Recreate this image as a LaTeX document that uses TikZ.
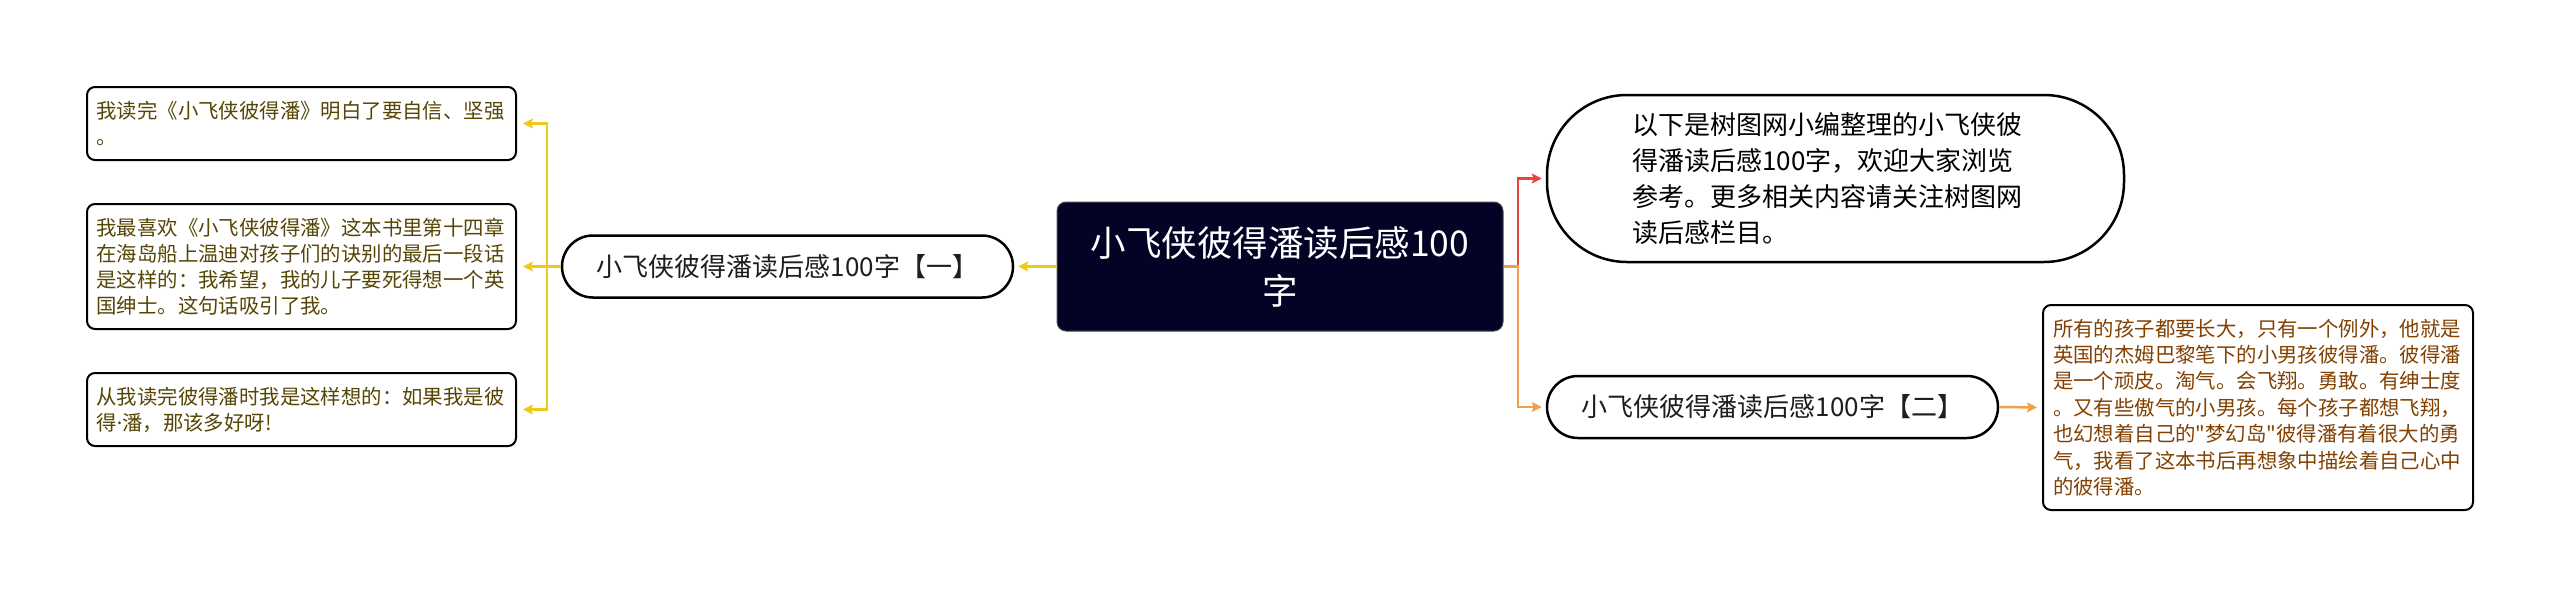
\documentclass[tikz,border=0pt]{standalone}
\usepackage{fontspec}
\setmainfont{Noto Sans CJK SC}
\newfontfamily\plaincjk{Noto Sans CJK SC}
\newfontfamily\latinfont{Noto Sans}
\usetikzlibrary{arrows.meta}
\definecolor{navy}{RGB}{3,3,38}
\definecolor{yel}{RGB}{240,200,25}
\definecolor{redl}{RGB}{232,69,60}
\definecolor{orl}{RGB}{240,160,75}
\definecolor{olivetext}{RGB}{85,70,5}
\definecolor{browntext}{RGB}{130,65,0}
\definecolor{darktext}{RGB}{30,30,30}
\begin{document}
\begin{tikzpicture}[x=1pt,y=-1pt,
  leafbox/.style={draw=black, line width=2pt, rounded corners=8pt, fill=white,
    inner ysep=0pt, inner xsep=9.5pt, text width=410pt, align=left,
    minimum height=#1},
  branchbox/.style={draw=black, line width=2.5pt, rounded corners=31pt, fill=white,
    inner sep=0pt, minimum width=451pt, minimum height=62pt, text=darktext,
    font=\fontsize{26}{30}\selectfont},
  conn/.style={line width=2.5pt},
  arr/.style={-{Stealth[length=10pt,width=10pt,inset=2pt]}}
]
\useasboundingbox (0,0) rectangle (2560,597);

% center
\node[draw=black!70, line width=1pt, fill=navy, rounded corners=9pt, text=white,
  minimum width=446pt, minimum height=129pt, inner sep=0pt, align=center,
  font=\fontsize{35.5}{48}\selectfont] (c) at (1280,266.5) {小飞侠彼得潘读后感100\\字};

% branches
\node[branchbox] (b1) at (787.5,266.5) {小飞侠彼得潘读后感100字【一】};
\node[branchbox] (b2) at (1772.5,407) {小飞侠彼得潘读后感100字【二】};

% top right
\node[draw=black, line width=2.5pt, rounded corners=80pt, fill=white,
  minimum width=577pt, minimum height=167pt, inner ysep=0pt, inner xsep=85.5pt,
  text width=406pt, align=left, font=\fontsize{26}{36}\selectfont] (tr) at (1835.5,178.5)
  {以下是树图网小编整理的小飞侠彼\\得潘读后感100字，欢迎大家浏览\\参考。更多相关内容请关注树图网\\读后感栏目。};

% left leaves
\node[leafbox=73pt, text=olivetext, font=\fontsize{20.4}{26}\selectfont] (l1) at (301.5,123.5)
  {我读完《小飞侠彼得潘》明白了要自信、坚强\\。};
\node[leafbox=125pt, text=olivetext, font=\fontsize{20.4}{26}\selectfont] (l2) at (301.5,266.5)
  {我最喜欢《小飞侠彼得潘》这本书里第十四章\\在海岛船上温迪对孩子们的诀别的最后一段话\\是这样的：我希望，我的儿子要死得想一个英\\国绅士。这句话吸引了我。};
\node[leafbox=73pt, text=olivetext, font=\fontsize{20.4}{26}\selectfont] (l3) at (301.5,409.5)
  {从我读完彼得潘时我是这样想的：如果我是彼\\得{\latinfont ·}潘，那该多好呀!};

% right leaf
\node[leafbox=205pt, inner xsep=10pt, text=browntext, font=\fontsize{20.4}{26.4}\selectfont] (r1) at (2258,407.5)
  {所有的孩子都要长大，只有一个例外，他就是\\英国的杰姆巴黎笔下的小男孩彼得潘。彼得潘\\是一个顽皮。淘气。会飞翔。勇敢。有绅士度\\。又有些傲气的小男孩。每个孩子都想飞翔，\\也幻想着自己的{\plaincjk"}梦幻岛{\plaincjk"}彼得潘有着很大的勇\\气，我看了这本书后再想象中描绘着自己心中\\的彼得潘。};

% connectors left
\coordinate (lj) at (547,266.5);
\draw[conn, yel, arr, shorten >=4pt] (c.west) -- (b1.east);
\draw[conn, yel] (b1.west) -- (lj);
\draw[conn, yel, arr, shorten >=6pt] (lj) |- (l1.east);
\draw[conn, yel, arr, shorten >=6pt] (lj) |- (l2.east);
\draw[conn, yel, arr, shorten >=6pt] (lj) |- (l3.east);

% connectors right
\coordinate (rj) at (1518,266.5);
\draw[conn, redl, arr, shorten >=4pt] (rj) |- (tr.west);
\draw[conn, orl, arr, shorten >=4pt] (c.east) -- (rj) |- (b2.west);
\draw[conn, orl, arr, shorten >=5pt] (b2.east) -- (r1.west);
\end{tikzpicture}
\end{document}
